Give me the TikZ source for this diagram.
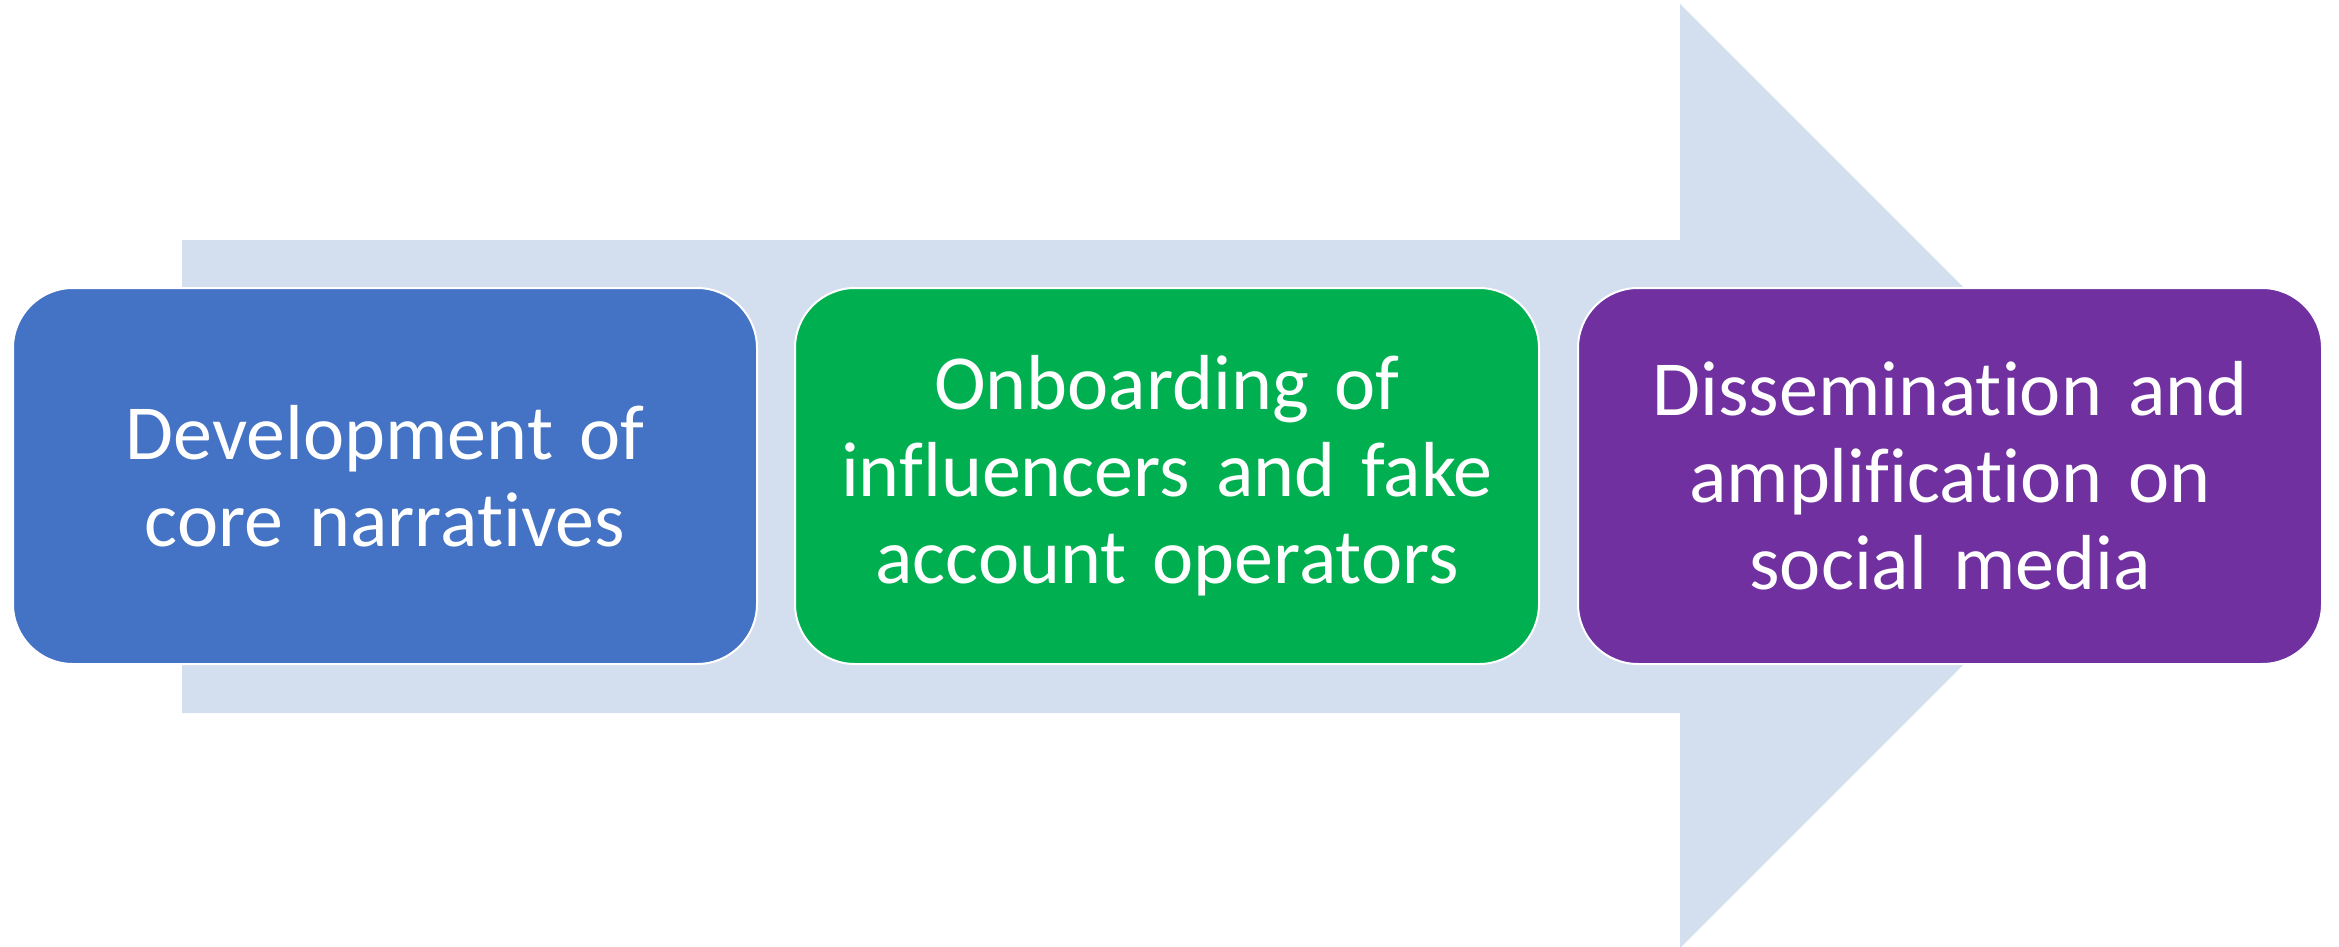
\documentclass[tikz,border=0pt]{standalone}
\usepackage{fontspec}
\setmainfont{Carlito}[Ligatures=NoCommon]
\definecolor{arrowfill}{HTML}{D3DEEF}
\definecolor{stepblue}{HTML}{4472C4}
\definecolor{stepgreen}{HTML}{00B050}
\definecolor{steppurple}{HTML}{7030A0}
\begin{document}
\begin{tikzpicture}[x=0.5pt,y=-0.5pt,
  stepbox/.style={rounded corners=30pt, draw=white, line width=1pt,
    minimum width=372pt, minimum height=188pt, inner sep=0pt,
    text width=365pt, align=center, text=white,
    font=\fontsize{39}{43.5}\selectfont}]
  \useasboundingbox (0,0) rectangle (2339,947);
  % large background arrow
  \fill[arrowfill] (182,240) -- (1680,240) -- (1680,4) -- (2152,476)
    -- (1680,948) -- (1680,713) -- (182,713) -- cycle;
  % the three stages
  \node[stepbox, fill=stepblue] (dev) at (385,476)
    {Development of\\core narratives};
  \node[stepbox, fill=stepgreen] (onb) at (1167,476)
    {Onboarding of\\influencers and fake\\account operators};
  \node[stepbox, fill=steppurple] (dis) at (1950,476)
    {Dissemination and\\amplification on\\social media};
\end{tikzpicture}
\end{document}
